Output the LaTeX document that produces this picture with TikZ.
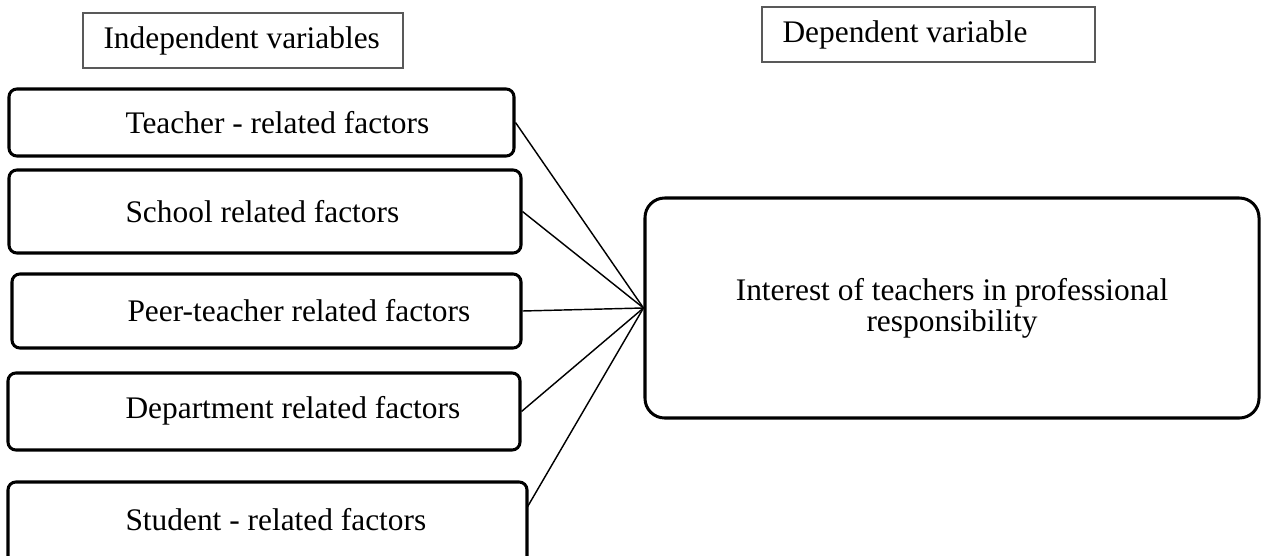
\documentclass[tikz,border=0pt]{standalone}
\usepackage{fontspec}
\setmainfont{Liberation Serif}
\usetikzlibrary{calc}
\newlength\pxu
\setlength\pxu{0.3822pt}
\tikzset{
  factorbox/.style={draw, line width=1.15pt, rounded corners=3pt, inner sep=0pt},
  headbox/.style={draw=black!65, line width=0.8pt, inner sep=0pt},
  boxtext/.style={anchor=west, inner sep=0pt, font=\fontsize{12}{14}\selectfont},
  link/.style={line width=0.55pt}
}
\begin{document}
\begin{tikzpicture}[x=\pxu, y=-\pxu]
  \useasboundingbox (0,0) rectangle (1261,556);
  % Headings
  \node[headbox, minimum width=320*\pxu, minimum height=55*\pxu] (indep) at (243,40.5) {};
  \node[boxtext] (indeptxt) at (103,41) {Independent variables};
  \node[headbox, minimum width=333*\pxu, minimum height=55*\pxu] (dep) at (928.5,34.5) {};
  \node[boxtext] (deptxt) at (782,35) {Dependent variable};

  % Independent variables
  \node[factorbox, minimum width=505*\pxu, minimum height=67*\pxu] (teacher) at (261.5,122.5) {};
  \node[boxtext] (teachertxt) at (125,123) {Teacher - related factors};
  \node[factorbox, minimum width=512*\pxu, minimum height=83*\pxu] (school) at (265,211.5) {};
  \node[boxtext] (schooltxt) at (125,212) {School related factors};
  \node[factorbox, minimum width=509*\pxu, minimum height=74*\pxu] (peer) at (266.5,311) {};
  \node[boxtext] (peertxt) at (127,311) {Peer-teacher related factors};
  \node[factorbox, minimum width=512*\pxu, minimum height=77*\pxu] (dept) at (264,411.5) {};
  \node[boxtext] (depttxt) at (125,411) {Department related factors};
  \node[factorbox, minimum width=519*\pxu, minimum height=93*\pxu] (student) at (267.5,528.5) {};
  \node[boxtext] (studenttxt) at (125,520) {Student - related factors};

  % Dependent variable
  \node[factorbox, rounded corners=7.5pt, minimum width=614*\pxu, minimum height=220*\pxu,
        align=center, font=\fontsize{12}{10.7}\selectfont] (interest) at (952,308)
        {Interest of teachers in professional\\responsibility};

  % Links
  \coordinate (studentend) at ($(student.north east)+(-2,28)$);
  \foreach \src in {teacher, school, peer, dept}
    \draw[link] (\src.east) -- (interest.west);
  \draw[link] (studentend) -- (interest.west);
\end{tikzpicture}
\end{document}
